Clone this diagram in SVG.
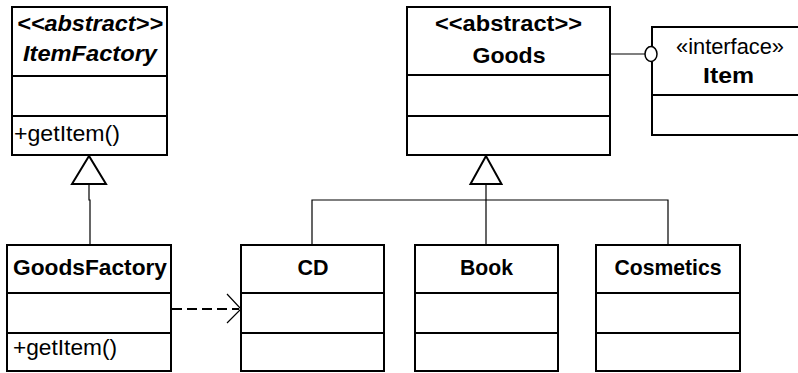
<svg xmlns="http://www.w3.org/2000/svg" width="798" height="373" viewBox="0 0 798 373">
<style>
.box{fill:#fff;stroke:#000;stroke-width:2}
.div{stroke:#000;stroke-width:2}
.t{font-family:"Liberation Sans",Arial,sans-serif;font-size:22px;fill:#000}
.b{font-weight:bold}
.i{font-style:italic}
.m{text-anchor:middle}
.c{fill:none;stroke:#000;stroke-width:1.2}
.tri{fill:#fff;stroke:#000;stroke-width:2}
</style>
<g id="connectors">
<path class="c" d="M89,184 V200 H90 V245"/>
<path class="c" d="M486,184 V245 M312,245 V200 H668 V245"/>
<line class="c" x1="610" y1="54" x2="645" y2="54"/>
<line x1="172" y1="309" x2="239" y2="309" stroke="#000" stroke-width="2" stroke-dasharray="10,5"/>
<path class="c" d="M227,294 L241,309 L227,323"/>
<polygon class="tri" points="89,156 72,184 106,184"/>
<polygon class="tri" points="486,156 470.5,184 501.5,184"/>
</g>
<g id="ItemFactory">
<rect class="box" x="12" y="7" width="155" height="148"/>
<line class="div" x1="12" y1="76" x2="167" y2="76"/>
<line class="div" x1="12" y1="116" x2="167" y2="116"/>
<text class="t b i m" x="90" y="31" textLength="146" lengthAdjust="spacingAndGlyphs">&lt;&lt;abstract&gt;&gt;</text>
<text class="t b i m" x="90" y="61" textLength="134" lengthAdjust="spacingAndGlyphs">ItemFactory</text>
<text class="t" x="14" y="141" textLength="106" lengthAdjust="spacingAndGlyphs">+getItem()</text>
</g>
<g id="Goods">
<rect class="box" x="407" y="7" width="203" height="148"/>
<line class="div" x1="407" y1="75" x2="610" y2="75"/>
<line class="div" x1="407" y1="116" x2="610" y2="116"/>
<text class="t b m" x="508.5" y="31" textLength="147" lengthAdjust="spacingAndGlyphs">&lt;&lt;abstract&gt;&gt;</text>
<text class="t b m" x="509" y="63" textLength="73" lengthAdjust="spacingAndGlyphs">Goods</text>
</g>
<g id="Item">
<rect class="box" x="652" y="27" width="160" height="108"/>
<line class="div" x1="652" y1="95" x2="800" y2="95"/>
<ellipse cx="651" cy="54" rx="6" ry="7.5" fill="#fff" stroke="#000" stroke-width="1.5"/>
<text class="t m" x="730" y="54" textLength="108" lengthAdjust="spacingAndGlyphs">«interface»</text>
<text class="t b m" x="728.5" y="83" textLength="51" lengthAdjust="spacingAndGlyphs">Item</text>
</g>
<g id="GoodsFactory">
<rect class="box" x="7" y="245" width="164" height="126"/>
<line class="div" x1="7" y1="293" x2="171" y2="293"/>
<line class="div" x1="7" y1="333" x2="171" y2="333"/>
<text class="t b" x="13" y="275" textLength="154" lengthAdjust="spacingAndGlyphs">GoodsFactory</text>
<text class="t" x="13" y="355" textLength="104" lengthAdjust="spacingAndGlyphs">+getItem()</text>
</g>
<g id="CD">
<rect class="box" x="241" y="245" width="143" height="126"/>
<line class="div" x1="241" y1="293" x2="384" y2="293"/>
<line class="div" x1="241" y1="333" x2="384" y2="333"/>
<text class="t b m" x="313" y="275" textLength="31" lengthAdjust="spacingAndGlyphs">CD</text>
</g>
<g id="Book">
<rect class="box" x="415" y="245" width="143" height="126"/>
<line class="div" x1="415" y1="293" x2="558" y2="293"/>
<line class="div" x1="415" y1="333" x2="558" y2="333"/>
<text class="t b m" x="486.5" y="275" textLength="53" lengthAdjust="spacingAndGlyphs">Book</text>
</g>
<g id="Cosmetics">
<rect class="box" x="596" y="245" width="144" height="126"/>
<line class="div" x1="596" y1="293" x2="740" y2="293"/>
<line class="div" x1="596" y1="333" x2="740" y2="333"/>
<text class="t b m" x="668" y="275" textLength="107" lengthAdjust="spacingAndGlyphs">Cosmetics</text>
</g>
</svg>
